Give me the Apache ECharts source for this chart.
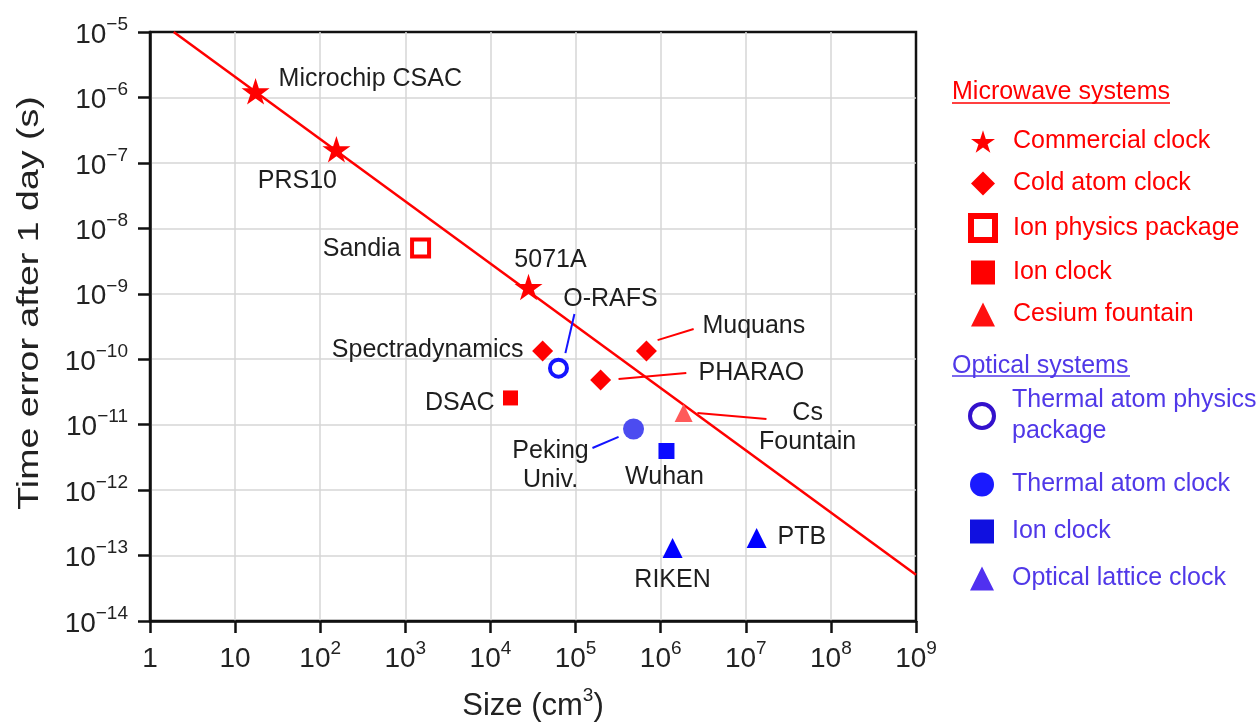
<!DOCTYPE html>
<html>
<head>
<meta charset="utf-8">
<script src="https://cdn.jsdelivr.net/npm/echarts@6/dist/echarts.min.js"></script>
<style>
  html, body { margin: 0; padding: 0; background: #fff; }
  #chart { width: 1258px; height: 726px; }
</style>
</head>
<body>
<div id="chart"></div>
<script>
// values: [size cm^3, time error after 1 day s]
const commercialClock = [[17.4, 1.24e-6], [155, 1.62e-7], [2.8e4, 1.27e-9]];
const commercialNames = ['Microchip CSAC', 'PRS10', '5071A'];
const coldAtomClock = [[4.1e4, 1.33e-10], [6.8e5, 1.33e-10], [1.97e5, 4.8e-11]];
const coldAtomNames = ['Spectradynamics', 'Muquans', 'PHARAO'];
const ionPhysicsPackage = [[1.51e3, 5.0e-9]];
const ionPhysicsNames = ['Sandia'];
const ionClockMicrowave = [[1.72e4, 2.56e-11]];
const ionClockMicrowaveNames = ['DSAC'];
const cesiumFountain = [[1.86e6, 1.51e-11]];
const cesiumFountainNames = ['Cs\nFountain'];
const thermalAtomPackage = [[6.3e4, 7.3e-11]];
const thermalAtomPackageNames = ['O-RAFS'];
const thermalAtomClock = [[4.8e5, 8.6e-12]];
const thermalAtomClockNames = ['Peking\nUniv.'];
const ionClockOptical = [[1.17e6, 3.96e-12]];
const ionClockOpticalNames = ['Wuhan'];
const opticalLattice = [[1.34e7, 1.86e-13], [1.38e6, 1.31e-13]];
const opticalLatticeNames = ['PTB', 'RIKEN'];

const trendLine = [[1.9, 1e-5], [1e9, 5.1e-14]];

// label -> leader line ends
const leaderLines = {
  'O-RAFS': [[9.7e4, 4.9e-10], [7.6e4, 1.24e-10]],
  'Muquans': [[9.2e5, 1.96e-10], [2.44e6, 2.89e-10]],
  'PHARAO': [[3.2e5, 4.99e-11], [2.0e6, 6.15e-11]],
  'Cs Fountain': [[2.7e6, 1.51e-11], [1.75e7, 1.22e-11]],
  'Peking Univ.': [[1.58e5, 4.4e-12], [3.2e5, 6.5e-12]]
};

const xTickLabels = ['1', '10', '10{s|2}', '10{s|3}', '10{s|4}', '10{s|5}',
  '10{s|6}', '10{s|7}', '10{s|8}', '10{s|9}'];
const yTickLabels = ['10{s|−14}', '10{s|−13}', '10{s|−12}', '10{s|−11}', '10{s|−10}',
  '10{s|−9}', '10{s|−8}', '10{s|−7}', '10{s|−6}', '10{s|−5}'];

const FONT = '"Liberation Sans", Arial, Helvetica, sans-serif';
const RED = '#ff0000';
const BLUE = '#1414ff';
const LEGEND_BLUE = '#5038e8';
const STAR = 'path://M50,0 L61.2,35.1 L98.1,35.1 L68.3,57 L79.4,91 L50,70 L20.6,91 L31.7,57 L1.9,35.1 L38.8,35.1 Z';

// [align, dx, dy] relative to the marker centre
const labelPlace = {
  'Microchip CSAC': ['left', 23, -12],
  'PRS10': ['center', -39, 32],
  '5071A': ['center', 22, -27],
  'Sandia': ['right', -20, 1],
  'Spectradynamics': ['right', -19, -1],
  'O-RAFS': ['center', 52, -69],
  'Muquans': ['left', 56, -25],
  'PHARAO': ['left', 98, -7],
  'DSAC': ['right', -16, 5],
  'Cs\nFountain': ['center', 124, 15],
  'Peking\nUniv.': ['center', -83, 37],
  'Wuhan': ['center', -2, 26],
  'PTB': ['left', 21, -1],
  'RIKEN': ['center', 0, 32]
};

const legendText = {
  'Commercial clock': 'Commercial clock',
  'Cold atom clock': 'Cold atom clock',
  'Ion physics package': 'Ion physics package',
  'Ion clock (microwave)': 'Ion clock',
  'Cesium fountain': 'Cesium fountain',
  'Thermal atom physics package': 'Thermal atom physics\npackage',
  'Thermal atom clock': 'Thermal atom clock',
  'Ion clock (optical)': 'Ion clock',
  'Optical lattice clock': 'Optical lattice clock'
};

const groups = [
  { name: 'Commercial clock', data: commercialClock, names: commercialNames,
    symbol: STAR, size: 28, style: { color: RED } },
  { name: 'Cold atom clock', data: coldAtomClock, names: coldAtomNames,
    symbol: 'diamond', size: 21, style: { color: RED } },
  { name: 'Ion physics package', data: ionPhysicsPackage, names: ionPhysicsNames,
    symbol: 'rect', size: 17, style: { color: '#fff', borderColor: RED, borderWidth: 4 } },
  { name: 'Ion clock (microwave)', data: ionClockMicrowave, names: ionClockMicrowaveNames,
    symbol: 'rect', size: 15, style: { color: RED } },
  { name: 'Cesium fountain', data: cesiumFountain, names: cesiumFountainNames,
    symbol: 'triangle', size: 18, style: { color: '#ff5a5a' } },
  { name: 'Thermal atom physics package', data: thermalAtomPackage, names: thermalAtomPackageNames,
    symbol: 'circle', size: 17, style: { color: '#fff', borderColor: BLUE, borderWidth: 4 } },
  { name: 'Thermal atom clock', data: thermalAtomClock, names: thermalAtomClockNames,
    symbol: 'circle', size: 21, style: { color: '#4c4cf0' } },
  { name: 'Ion clock (optical)', data: ionClockOptical, names: ionClockOpticalNames,
    symbol: 'rect', size: 16, style: { color: '#0a0aff' } },
  { name: 'Optical lattice clock', data: opticalLattice, names: opticalLatticeNames,
    symbol: 'triangle', size: 20, style: { color: '#0000ff' } }
];

function scatterSeries(g) {
  return {
    name: g.name,
    type: 'scatter',
    symbol: g.symbol,
    symbolSize: g.size,
    symbolKeepAspect: true,
    itemStyle: Object.assign({ opacity: 1 }, g.style),
    z: 5,
    data: g.data.map((v, i) => {
      const p = labelPlace[g.names[i]];
      return {
        value: v,
        name: g.names[i],
        label: { align: p[0], offset: [p[1], p[2]] }
      };
    }),
    label: {
      show: true,
      position: 'inside',
      formatter: '{b}',
      color: '#1e1e1e',
      fontSize: 25,
      lineHeight: 29,
      fontFamily: FONT
    }
  };
}

const leaderColor = {
  'O-RAFS': BLUE, 'Muquans': RED, 'PHARAO': RED, 'Cs Fountain': RED, 'Peking Univ.': BLUE
};

const leaderSeries = Object.keys(leaderLines).map(k => ({
  type: 'line',
  data: leaderLines[k],
  symbol: 'none',
  silent: true,
  z: 3,
  lineStyle: { color: leaderColor[k], width: 2 }
}));

const tickRich = {
  b: { fontSize: 28, lineHeight: 40, fontFamily: FONT, color: '#222' },
  s: { fontSize: 19, lineHeight: 22, verticalAlign: 'top', fontFamily: FONT, color: '#222' }
};

function tickText(label) {
  return label.indexOf('{s|') < 0 ? '{b|' + label + '}' : '{b|' + label.replace('{s|', '}{s|');
}

const chart = echarts.init(document.getElementById('chart'));
chart.setOption({
  animation: false,
  backgroundColor: '#fff',
  grid: {
    left: 150, right: 342, top: 32, bottom: 105,
    show: true, borderColor: '#111', borderWidth: 2.5,
    outerBoundsMode: 'none'
  },
  xAxis: {
    type: 'log', logBase: 10, min: 1, max: 1e9,
    name: 'Size (cm{s|3})',
    nameLocation: 'middle',
    nameGap: 65,
    nameTextStyle: {
      fontSize: 31, fontFamily: FONT, color: '#222', lineHeight: 40,
      rich: { s: { fontSize: 19, lineHeight: 24, verticalAlign: 'top', fontFamily: FONT, color: '#222' } }
    },
    axisLine: { show: true, onZero: false, lineStyle: { color: '#111', width: 2.5 } },
    axisTick: { show: true, length: 12, lineStyle: { color: '#111', width: 2.5 } },
    axisLabel: {
      margin: 18,
      formatter: v => tickText(xTickLabels[Math.round(Math.log10(v))]),
      rich: tickRich
    },
    splitLine: { show: true, showMinLine: false, showMaxLine: false, lineStyle: { color: '#d6d6d6', width: 1.5 } },
    minorTick: { show: false },
    minorSplitLine: { show: false }
  },
  yAxis: {
    type: 'log', logBase: 10, min: 1e-14, max: 1e-5,
    axisLine: { show: true, onZero: false, lineStyle: { color: '#111', width: 2.5 } },
    axisTick: { show: true, length: 12, lineStyle: { color: '#111', width: 2.5 } },
    axisLabel: {
      margin: 22,
      padding: [6, 0, 0, 0],
      formatter: v => tickText(yTickLabels[Math.round(Math.log10(v)) + 14]),
      rich: tickRich
    },
    splitLine: { show: true, showMinLine: false, showMaxLine: false, lineStyle: { color: '#d6d6d6', width: 1.5 } },
    minorTick: { show: false },
    minorSplitLine: { show: false }
  },
  legend: [
    {
      orient: 'vertical', left: 968, top: 129, padding: 0,
      itemWidth: 24, itemHeight: 24, itemGap: 17,
      selectedMode: false,
      formatter: n => legendText[n],
      textStyle: { color: RED, fontSize: 25, fontFamily: FONT, padding: [0, 0, 0, 13] },
      data: [
        'Commercial clock',
        'Cold atom clock',
        { name: 'Ion physics package', itemStyle: { borderWidth: 6 } },
        'Ion clock (microwave)',
        { name: 'Cesium fountain', itemStyle: { color: '#ff1010' } }
      ]
    },
    {
      orient: 'vertical', left: 968, top: 379, padding: 0,
      itemWidth: 24, itemHeight: 24, itemGap: 16,
      selectedMode: false,
      formatter: n => legendText[n],
      textStyle: { color: LEGEND_BLUE, fontSize: 25, lineHeight: 31, fontFamily: FONT, padding: [0, 0, 0, 13] },
      data: [
        { name: 'Thermal atom physics package',
          itemStyle: { borderWidth: 4, borderColor: '#3311cc' },
          textStyle: { padding: [12, 0, 0, 13] } },
        { name: 'Thermal atom clock', itemStyle: { color: '#1a1aff' } },
        { name: 'Ion clock (optical)', itemStyle: { color: '#1010e0' } },
        { name: 'Optical lattice clock', itemStyle: { color: '#5030f0' } }
      ]
    }
  ],
  graphic: [
    { type: 'text', left: 952, top: 80, style: { text: 'Microwave systems', fill: RED, font: '25px ' + FONT } },
    { type: 'line', shape: { x1: 952, y1: 103, x2: 1170, y2: 103 }, style: { stroke: RED, lineWidth: 1.5 } },
    { type: 'text', left: 952, top: 354, style: { text: 'Optical systems', fill: LEGEND_BLUE, font: '25px ' + FONT } },
    { type: 'line', shape: { x1: 952, y1: 376, x2: 1130, y2: 376 }, style: { stroke: LEGEND_BLUE, lineWidth: 1.5 } },
    // y-axis title, stretched along its baseline as in the source figure
    {
      type: 'text', x: 30, y: 303, rotation: Math.PI / 2, scaleX: 1.25,
      style: {
        text: 'Time error after 1 day (s)', fill: '#222', font: '30px ' + FONT,
        align: 'center', verticalAlign: 'middle'
      }
    }
  ],
  series: [
    {
      type: 'line', data: trendLine, symbol: 'none', silent: true, z: 2,
      lineStyle: { color: RED, width: 2.5 }
    },
    ...leaderSeries,
    ...groups.map(scatterSeries)
  ]
});
</script>
</body>
</html>
